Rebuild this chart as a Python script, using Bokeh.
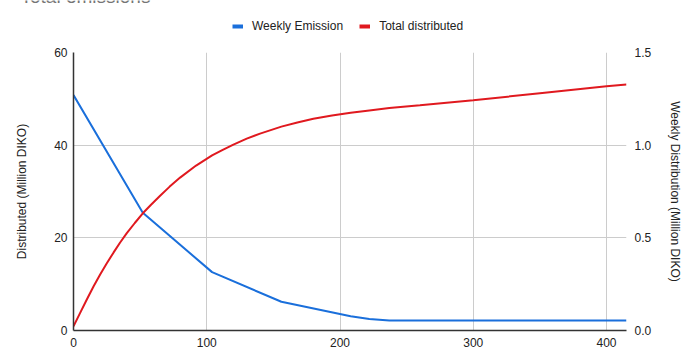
from bokeh.plotting import figure
from bokeh.layouts import column
from bokeh.models import (LinearAxis, Range1d, Legend, LegendItem, Label,
                          FixedTicker, NumeralTickFormatter)
from bokeh.embed import file_html
from bokeh.resources import INLINE

# ---- data ----
title_text = "Total emissions"
series_names = ["Weekly Emission", "Total distributed"]

weeks_weekly = [0, 52, 104, 156, 208, 222, 237, 415]
weekly_emission = [1.27, 0.635, 0.315, 0.155, 0.077, 0.062, 0.054, 0.054]

weeks_total = [0, 5, 10, 15, 20, 25, 30, 35, 40, 46, 52, 58, 65, 72, 80, 92,
               104, 112, 120, 130, 140, 156, 168, 180, 194, 208, 222, 237,
               260, 300, 350, 400, 415]
total_distributed = [0.9, 3.8, 6.7, 9.5, 12.1, 14.5, 16.8, 19.0, 21.0, 23.2,
                     25.3, 27.1, 29.1, 31.0, 33.0, 35.6, 37.8, 39.0, 40.1,
                     41.4, 42.5, 44.0, 44.9, 45.7, 46.4, 47.0, 47.5, 48.0,
                     48.6, 49.7, 51.2, 52.7, 53.1]

x_ticks = [0, 100, 200, 300, 400]
left_ticks = [0, 20, 40, 60]
right_ticks = [0, 0.5, 1.0, 1.5]

BLUE = "#1a6fdb"
RED = "#e0191f"
FONT = "Liberation Sans"
TXT = "#222222"
NAN = float("nan")

# ---------- header strip: (cut-off) title + legend ----------
TOP_H = 46
top = figure(width=700, height=TOP_H, output_backend="svg",
             toolbar_location=None, x_axis_type=None, y_axis_type=None,
             x_range=Range1d(0, 700), y_range=Range1d(0, TOP_H),
             min_border=0, min_border_left=0, min_border_right=0,
             min_border_top=0, min_border_bottom=0, frame_align=False)
top.outline_line_color = None
top.xgrid.visible = False
top.ygrid.visible = False

lb = top.line([NAN, NAN], [NAN, NAN], line_color=BLUE, line_width=4)
lr = top.line([NAN, NAN], [NAN, NAN], line_color=RED, line_width=4)
legend = Legend(items=[LegendItem(label=series_names[0], renderers=[lb]),
                       LegendItem(label=series_names[1], renderers=[lr])],
                orientation="horizontal", location=(232, 13),
                glyph_width=11, glyph_height=12, label_standoff=9, spacing=16,
                padding=0, margin=0, border_line_color=None,
                background_fill_alpha=0,
                label_text_font=FONT, label_text_font_size="12px",
                label_text_color=TXT, label_height=14)
top.add_layout(legend)

title = Label(x=20, y=TOP_H + 4, text=title_text, text_font=FONT,
              text_font_size="19px", text_color="#757575",
              text_baseline="alphabetic")
top.add_layout(title)

# ---------- main chart ----------
p = figure(width=700, height=356 - TOP_H, output_backend="svg",
           toolbar_location=None, frame_align=False,
           x_range=Range1d(0, 415), y_range=Range1d(0, 60),
           min_border_left=73, min_border_right=74, min_border_top=6,
           min_border_bottom=26)
p.outline_line_color = None
p.extra_y_ranges = {"weekly": Range1d(0, 1.5)}

p.xgrid.grid_line_color = "#cccccc"
p.ygrid.grid_line_color = "#cccccc"
p.xaxis.ticker = FixedTicker(ticks=x_ticks)
p.yaxis.ticker = FixedTicker(ticks=left_ticks)

for ax in (p.xaxis[0], p.yaxis[0]):
    ax.major_tick_line_color = None
    ax.minor_tick_line_color = None
    ax.axis_line_color = "#333333"
    ax.axis_line_width = 1.5
    ax.major_label_text_font = FONT
    ax.major_label_text_font_size = "12px"
    ax.major_label_text_color = TXT
    ax.axis_label_text_font = FONT
    ax.axis_label_text_font_size = "12px"
    ax.axis_label_text_font_style = "normal"
    ax.axis_label_text_color = TXT

p.xaxis.major_label_standoff = 1
p.yaxis.major_label_standoff = 0
p.yaxis.axis_label = "Distributed (Million DIKO)"
p.yaxis.axis_label_standoff = 22

right = LinearAxis(y_range_name="weekly",
                   axis_label="Weekly Distribution (Million DIKO)",
                   ticker=FixedTicker(ticks=right_ticks),
                   formatter=NumeralTickFormatter(format="0.0"))
right.major_tick_line_color = None
right.minor_tick_line_color = None
right.axis_line_color = None
right.major_label_standoff = 2
right.major_label_text_font = FONT
right.major_label_text_font_size = "12px"
right.major_label_text_color = TXT
right.axis_label_text_font = FONT
right.axis_label_text_font_size = "12px"
right.axis_label_text_font_style = "normal"
right.axis_label_text_color = TXT
right.axis_label_standoff = 14
p.add_layout(right, "right")

p.line(weeks_weekly, weekly_emission, y_range_name="weekly",
       line_color=BLUE, line_width=2)
p.line(weeks_total, total_distributed, line_color=RED, line_width=2)

layout = column(top, p, spacing=0)
open("out.html", "w").write(file_html(layout, INLINE))
